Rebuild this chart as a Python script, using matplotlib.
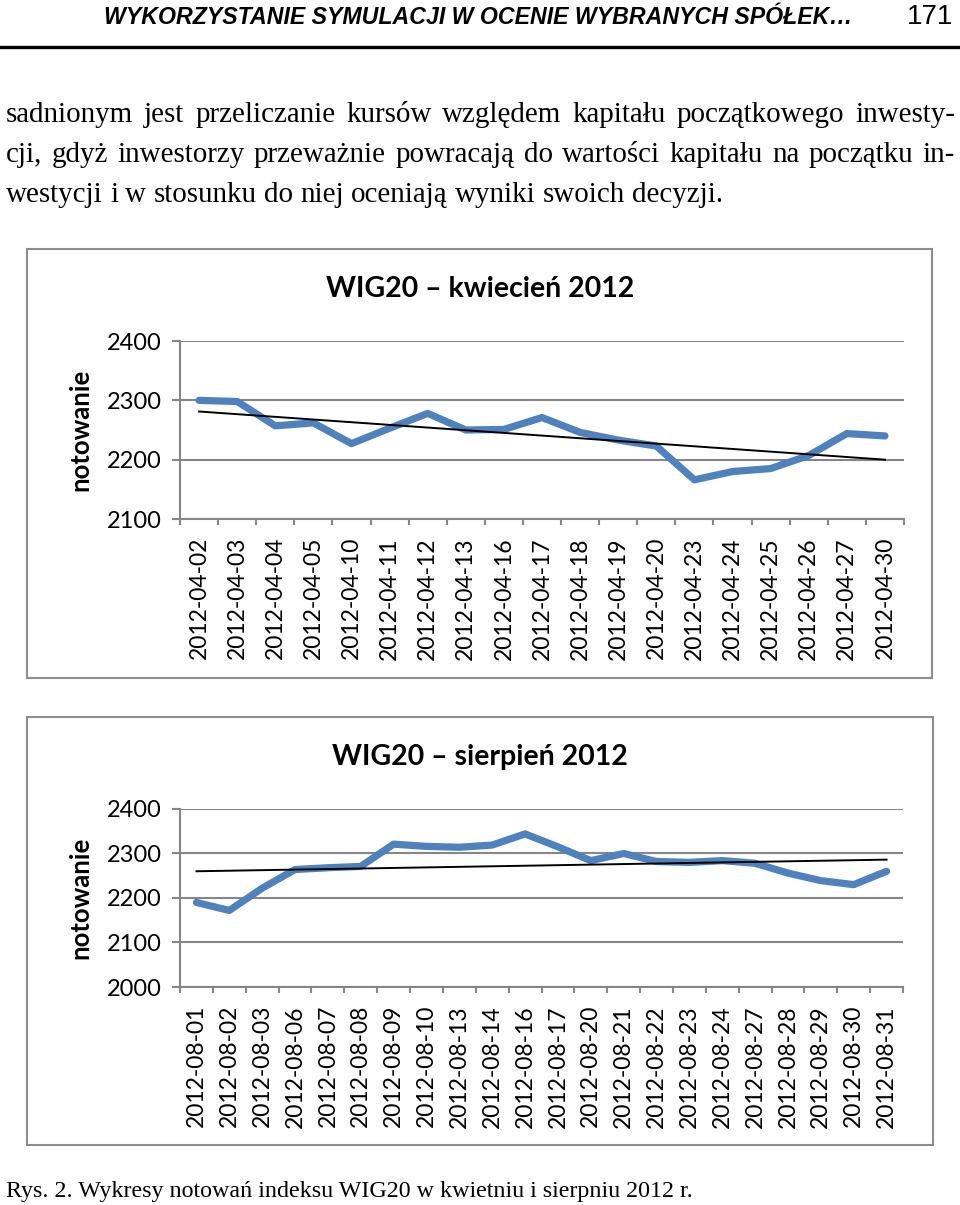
import matplotlib
matplotlib.use("Agg")
import matplotlib.pyplot as plt
from matplotlib.patches import Rectangle
from matplotlib.lines import Line2D
import numpy as np

# data
april_dates = ["2012-04-02", "2012-04-03", "2012-04-04", "2012-04-05", "2012-04-10",
               "2012-04-11", "2012-04-12", "2012-04-13", "2012-04-16", "2012-04-17",
               "2012-04-18", "2012-04-19", "2012-04-20", "2012-04-23", "2012-04-24",
               "2012-04-25", "2012-04-26", "2012-04-27", "2012-04-30"]
april_values = [2300, 2298, 2257, 2262, 2227, 2253, 2278, 2250, 2251, 2271,
                2246, 2233, 2223, 2166, 2180, 2185, 2207, 2244, 2240]

august_dates = ["2012-08-01", "2012-08-02", "2012-08-03", "2012-08-06", "2012-08-07",
                "2012-08-08", "2012-08-09", "2012-08-10", "2012-08-13", "2012-08-14",
                "2012-08-16", "2012-08-17", "2012-08-20", "2012-08-21", "2012-08-22",
                "2012-08-23", "2012-08-24", "2012-08-27", "2012-08-28", "2012-08-29",
                "2012-08-30", "2012-08-31"]
august_values = [2190, 2172, 2222, 2264, 2268, 2271, 2321, 2316, 2314, 2319,
                 2344, 2315, 2284, 2300, 2282, 2280, 2284, 2278, 2256, 2239,
                 2230, 2260]

april_ticks = [2100, 2200, 2300, 2400]
august_ticks = [2000, 2100, 2200, 2300, 2400]

header = "WYKORZYSTANIE SYMULACJI W OCENIE WYBRANYCH SPÓŁEK…"
page_no = "171"
body_lines = [
    "sadnionym jest przeliczanie kursów względem kapitału początkowego inwesty-",
    "cji, gdyż inwestorzy przeważnie powracają do wartości kapitału na początku in-",
    "westycji i w stosunku do niej oceniają wyniki swoich decyzji.",
]
caption = "Rys. 2. Wykresy notowań indeksu WIG20 w kwietniu i sierpniu 2012 r."

W, H = 960, 1205
BLUE = "#4F81BD"
GRID = "#868686"
CHART_FONT = "Lato"
SERIF = "Liberation Serif"
NARROW = ["Liberation Sans Narrow", "Liberation Sans"]

fig = plt.figure(figsize=(W / 100, H / 100), dpi=100)
renderer = fig.canvas.get_renderer()


def fx(x):
    return x / W


def fy(y):
    return 1 - y / H


def rect(x0, y0, x1, y1):
    return [fx(x0), fy(y1), (x1 - x0) / W, (y1 - y0) / H]


def width_of(t):
    return t.get_window_extent(renderer).width


def fit_width(t, target):
    # shrink/grow a text so it spans the target width in pixels
    t.set_fontsize(t.get_fontsize() * target / width_of(t))


# page header
head = fig.text(fx(478), fy(17), header, ha="center", va="center", fontsize=20,
                family=NARROW, weight="bold", style="italic", stretch="condensed")
fit_width(head, 750)
fig.text(fx(953), fy(17), page_no, ha="right", va="center", fontsize=20,
         family=NARROW, stretch="condensed")
fig.add_artist(Line2D([0, 1], [fy(47), fy(47)], color="black", lw=2.4, transform=fig.transFigure))

# justified body text, sized so the longest line fits with tight spaces
probe = fig.text(0, 0, body_lines[1], fontsize=20, family=SERIF)
body_size = 20 * 930 / width_of(probe)
probe.remove()


def justify(line, y, x0, x1, size, last=False):
    words = line.split(" ")
    arts = [fig.text(0, fy(y), w, fontsize=size, family=SERIF, va="baseline") for w in words]
    widths = [width_of(a) for a in arts]
    if last:
        sp = fig.text(0, 0, "a a", fontsize=size, family=SERIF)
        nsp = fig.text(0, 0, "aa", fontsize=size, family=SERIF)
        gap = width_of(sp) - width_of(nsp)
        sp.remove()
        nsp.remove()
    else:
        gap = (x1 - x0 - sum(widths)) / (len(words) - 1)
    x = x0
    for a, w in zip(arts, widths):
        a.set_x(fx(x))
        x += w + gap


for i, line in enumerate(body_lines):
    justify(line, 122 + i * 40, 6, 955, body_size, last=(i == len(body_lines) - 1))

cap = fig.text(fx(6), fy(1197), caption, fontsize=17, family=SERIF, va="baseline")
fit_width(cap, 686)

# chart frames
for box in [(27, 249, 932, 678), (27, 717, 933, 1145)]:
    x0, y0, x1, y1 = box
    fig.add_artist(Rectangle((fx(x0), fy(y1)), (x1 - x0) / W, (y1 - y0) / H,
                             transform=fig.transFigure, fill=False, ec="#8c8c8c", lw=1.5))


def draw_chart(pos, dates, values, ticks, title, title_y, label_y):
    ax = fig.add_axes(pos)
    x = np.arange(len(values))
    ax.plot(x, values, color=BLUE, lw=5.2, solid_joinstyle="round", solid_capstyle="round", zorder=3)
    k, b = np.polyfit(x, values, 1)
    ax.plot(x, k * x + b, color="black", lw=1.4, zorder=4)
    ax.set_xlim(-0.5, len(values) - 0.5)
    ax.set_ylim(ticks[0], ticks[-1])
    ax.set_yticks(ticks)
    ax.set_yticklabels([str(t) for t in ticks], fontsize=17, family=CHART_FONT)
    ax.yaxis.grid(True, color=GRID, lw=1.5)
    ax.set_axisbelow(True)
    ax.tick_params(axis="y", length=6, width=1.5, color=GRID, pad=7)
    ax.set_xticks(x)
    ax.set_xticklabels(dates, rotation=90, fontsize=16.5, family=CHART_FONT)
    ax.set_xticks(np.arange(len(values) + 1) - 0.5, minor=True)
    ax.tick_params(axis="x", which="major", length=0, pad=13)
    ax.tick_params(axis="x", which="minor", length=4, width=1.5, color=GRID, direction="out")
    for s in ["top", "right"]:
        ax.spines[s].set_visible(False)
    for s in ["left", "bottom"]:
        ax.spines[s].set_color(GRID)
        ax.spines[s].set_linewidth(1.5)
    fig.text(fx(480), fy(title_y), title, ha="center", va="center", fontsize=20.5,
             family=CHART_FONT, weight="bold")
    fig.text(fx(80), fy(label_y), "notowanie", ha="center", va="center", rotation=90,
             fontsize=18.5, family=CHART_FONT, weight="bold")
    return ax


draw_chart(rect(180, 341, 904, 519), april_dates, april_values, april_ticks,
           "WIG20 – kwiecień 2012", 289, 430)
draw_chart(rect(180, 809, 903, 987), august_dates, august_values, august_ticks,
           "WIG20 – sierpień 2012", 757, 898)

fig.savefig("out.png", dpi=100)
